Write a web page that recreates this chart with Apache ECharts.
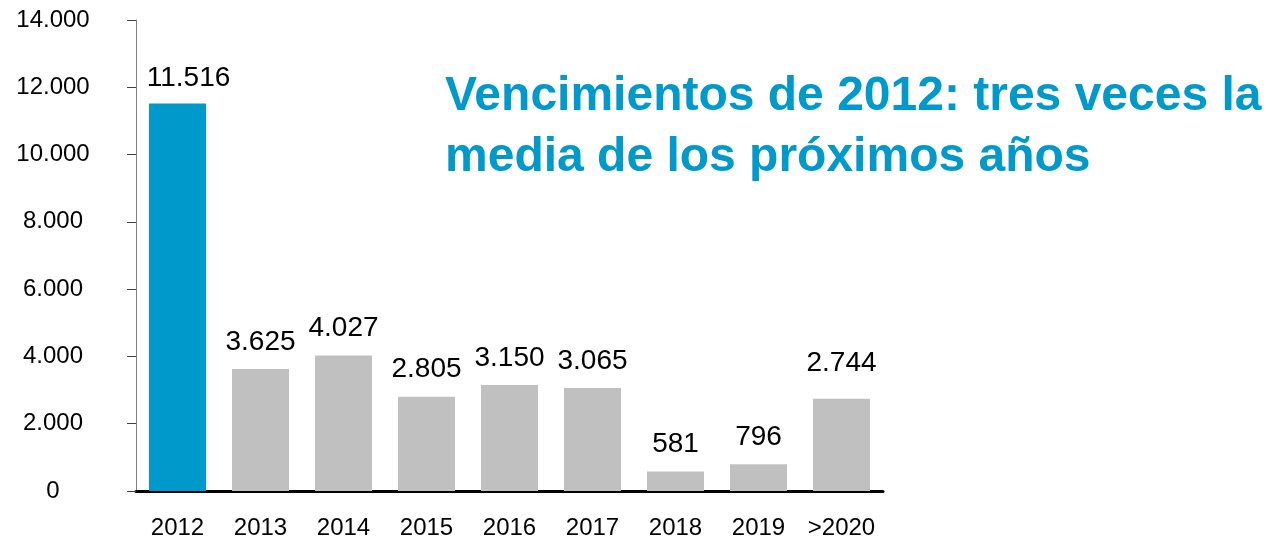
<!DOCTYPE html>
<html>
<head>
<meta charset="utf-8">
<script src="https://cdn.jsdelivr.net/npm/echarts@6/dist/echarts.min.js"></script>
<style>
  html, body { margin: 0; padding: 0; background: #fff; }
  #chart { width: 1266px; height: 542px; }
</style>
</head>
<body>
<div id="chart"></div>
<script>
// datos
var years = ['2012', '2013', '2014', '2015', '2016', '2017', '2018', '2019', '>2020'];
var vencimientos = [11516, 3625, 4027, 2805, 3150, 3065, 581, 796, 2744];
var titleLines = ['Vencimientos de 2012: tres veces la', 'media de los próximos años'];

function fmt(v) {
  // separador de miles con punto
  return String(v).replace(/\B(?=(\d{3})+(?!\d))/g, '.');
}

// desplazamientos de etiquetas como en el original
var labelOffsets = { 0: [11, 2], 8: [0, -8] };

var barData = vencimientos.map(function (v, i) {
  var item = { value: v };
  if (labelOffsets[i]) item.label = { offset: labelOffsets[i] };
  return item;
});

var chart = echarts.init(document.getElementById('chart'));

var option = {
  backgroundColor: '#ffffff',
  animation: false,
  textStyle: { fontFamily: 'Liberation Sans, Arial, sans-serif' },
  title: {
    text: titleLines.join('\n'),
    left: 445,
    top: 66,
    padding: 0,
    textStyle: {
      color: '#0099CC',
      fontSize: 48,
      fontWeight: 'bold',
      lineHeight: 61,
      fontFamily: 'Liberation Sans, Arial, sans-serif'
    }
  },
  grid: {
    left: 136,
    right: 383,
    top: 20,
    bottom: 51
  },
  xAxis: {
    type: 'category',
    data: years,
    axisLine: { lineStyle: { color: '#000', width: 3 } },
    axisTick: { show: false },
    axisLabel: {
      interval: 0,
      color: '#000',
      fontSize: 24,
      margin: 25,
      fontFamily: 'Liberation Sans, Arial, sans-serif'
    }
  },
  yAxis: {
    type: 'value',
    min: 0,
    max: 14000,
    interval: 2000,
    splitLine: { show: false },
    axisLine: { show: true, lineStyle: { color: '#808080', width: 1 } },
    axisTick: { show: true, length: 9, lineStyle: { color: '#404040' } },
    axisLabel: {
      color: '#000',
      fontSize: 24,
      align: 'center',
      margin: 83,
      formatter: fmt,
      fontFamily: 'Liberation Sans, Arial, sans-serif'
    }
  },
  series: [
    {
      type: 'bar',
      data: barData,
      barWidth: 57,
      itemStyle: {
        color: function (p) {
          return p.dataIndex === 0 ? '#0099CC' : '#C0C0C0';
        }
      },
      label: {
        show: true,
        position: 'top',
        distance: 13,
        color: '#000',
        fontSize: 28,
        formatter: function (p) { return fmt(p.value); },
        fontFamily: 'Liberation Sans, Arial, sans-serif'
      }
    }
  ]
};

chart.setOption(option);
</script>
</body>
</html>
